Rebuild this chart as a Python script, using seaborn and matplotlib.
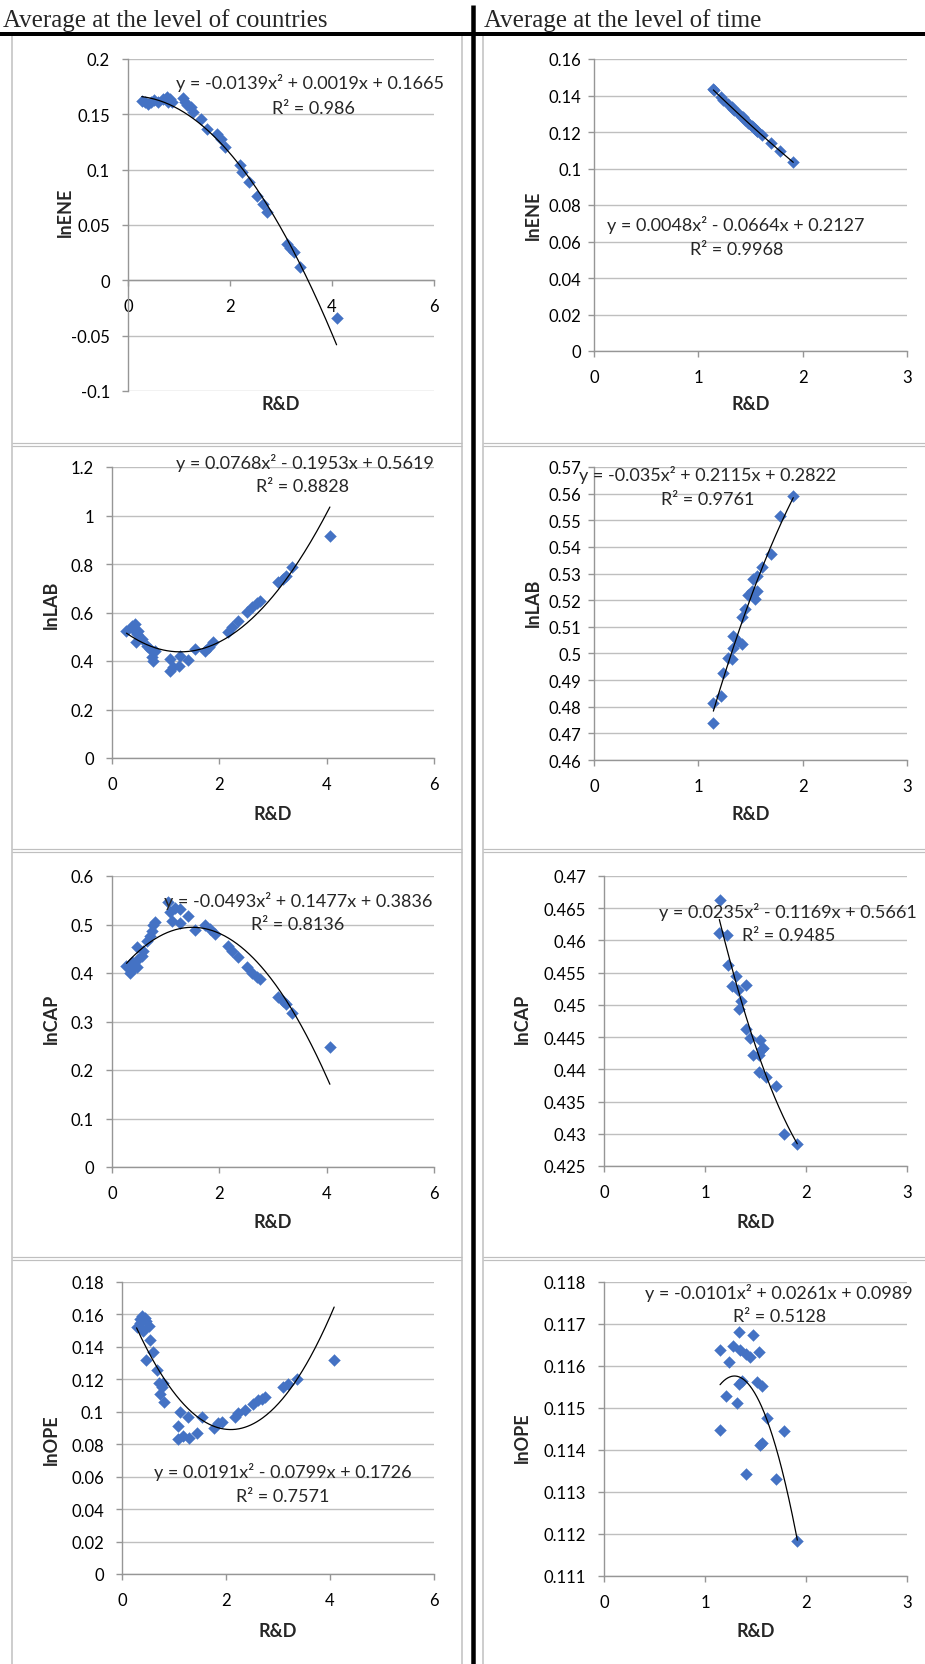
import numpy as np
import matplotlib
matplotlib.use("Agg")
import matplotlib.pyplot as plt
import seaborn as sns
from matplotlib.lines import Line2D
from matplotlib.ticker import FixedLocator, FuncFormatter

W, H = 925, 1665

# ---------------- countries (left column) ----------------
cty_ene_x = [0.27, 0.33, 0.40, 0.46, 0.50, 0.59, 0.69, 0.76, 0.82, 0.79, 0.86,
             1.08, 1.12, 1.16, 1.23, 1.28, 1.44, 1.54, 1.74, 1.82, 1.90,
             2.20, 2.23, 2.37, 2.52, 2.64, 2.73, 3.11, 3.18, 3.25, 3.37, 4.09]
cty_ene_y = [0.1617, 0.1608, 0.1593, 0.1608, 0.1632, 0.1614, 0.1638, 0.1653, 0.1638, 0.1614, 0.1608,
             0.1644, 0.1608, 0.1584, 0.1563, 0.1518, 0.1458, 0.1367, 0.1322, 0.1277, 0.1201,
             0.1042, 0.0981, 0.0885, 0.0758, 0.0689, 0.0614, 0.0327, 0.0288, 0.0252, 0.0116, -0.0336]

cty_lab_x = [0.27, 0.37, 0.43, 0.40, 0.49, 0.46, 0.55, 0.45, 0.65, 0.71, 0.80, 0.74, 0.77,
             1.08, 1.08, 1.14, 1.24, 1.27, 1.42, 1.55, 1.73, 1.80, 1.89,
             2.17, 2.23, 2.35, 2.51, 2.60, 2.70, 2.76, 3.10, 3.18, 3.24, 3.35, 4.06]
cty_lab_y = [0.525, 0.546, 0.553, 0.532, 0.525, 0.511, 0.491, 0.477, 0.463, 0.449, 0.443, 0.415, 0.401,
             0.408, 0.360, 0.374, 0.381, 0.419, 0.404, 0.449, 0.443, 0.456, 0.477,
             0.521, 0.539, 0.566, 0.601, 0.621, 0.639, 0.649, 0.727, 0.738, 0.752, 0.786, 0.914]

cty_cap_x = [0.27, 0.34, 0.40, 0.46, 0.37, 0.49, 0.46, 0.55, 0.58, 0.65, 0.71, 0.74, 0.77, 0.80,
             1.05, 1.08, 1.11, 1.17, 1.27, 1.27, 1.42, 1.55, 1.73, 1.83, 1.92,
             2.17, 2.23, 2.35, 2.51, 2.60, 2.70, 2.76, 3.10, 3.18, 3.25, 3.35, 4.06]
cty_cap_y = [0.415, 0.401, 0.408, 0.412, 0.422, 0.429, 0.453, 0.436, 0.446, 0.467, 0.477, 0.487, 0.498, 0.506,
             0.546, 0.525, 0.508, 0.535, 0.532, 0.504, 0.518, 0.489, 0.498, 0.491, 0.480,
             0.456, 0.446, 0.432, 0.412, 0.401, 0.391, 0.388, 0.350, 0.343, 0.336, 0.318, 0.248]

cty_ope_x = [0.28, 0.35, 0.38, 0.44, 0.47, 0.51, 0.35, 0.41, 0.54, 0.47, 0.60, 0.67, 0.72, 0.79,
             0.73, 0.81, 0.76, 1.12, 1.08, 1.08, 1.17, 1.26, 1.28, 1.44, 1.54, 1.76, 1.85, 1.93,
             2.17, 2.24, 2.37, 2.51, 2.62, 2.70, 2.75, 3.09, 3.20, 3.36, 4.08]
cty_ope_y = [0.152, 0.157, 0.159, 0.158, 0.156, 0.153, 0.155, 0.150, 0.144, 0.132, 0.137, 0.126, 0.118, 0.118,
             0.111, 0.106, 0.115, 0.100, 0.091, 0.083, 0.085, 0.097, 0.084, 0.087, 0.097, 0.090, 0.093, 0.094,
             0.097, 0.099, 0.101, 0.105, 0.107, 0.108, 0.109, 0.115, 0.117, 0.120, 0.132]

# ---------------- time (right column) ----------------
time_ene_x = [1.144, 1.150, 1.214, 1.24, 1.28, 1.32, 1.335, 1.345, 1.38, 1.415, 1.425,
              1.447, 1.48, 1.51, 1.54, 1.565, 1.527, 1.559, 1.607, 1.696, 1.783, 1.91]
time_ene_y = [0.1433, 0.1428, 0.1392, 0.1378, 0.1355, 0.1335, 0.1327, 0.1322, 0.1303, 0.1284, 0.1280,
              0.1267, 0.1250, 0.1234, 0.1219, 0.1206, 0.1225, 0.1208, 0.1184, 0.1141, 0.1094, 0.1034]

time_lab_x = [1.144, 1.144, 1.214, 1.24, 1.28, 1.32, 1.335, 1.335, 1.38, 1.415, 1.415,
              1.447, 1.48, 1.51, 1.54, 1.565, 1.527, 1.559, 1.607, 1.696, 1.783, 1.91]
time_lab_y = [0.474, 0.4815, 0.484, 0.4928, 0.4984, 0.4978, 0.5022, 0.5066, 0.5047, 0.5035, 0.5135,
              0.5166, 0.5219, 0.5235, 0.5204, 0.5235, 0.5279, 0.5291, 0.5323, 0.5373, 0.5517, 0.559]

time_cap_x = [1.149, 1.142, 1.215, 1.231, 1.31, 1.27, 1.41, 1.33, 1.36, 1.34, 1.41,
              1.445, 1.54, 1.48, 1.53, 1.56, 1.577, 1.535, 1.60, 1.70, 1.785, 1.914]
time_cap_y = [0.4663, 0.4612, 0.4609, 0.4562, 0.4545, 0.4530, 0.4531, 0.4523, 0.4506, 0.4493, 0.4463,
              0.4449, 0.4446, 0.4422, 0.4422, 0.4431, 0.4433, 0.4396, 0.4388, 0.4374, 0.4299, 0.4284]

time_ope_x = [1.149, 1.149, 1.238, 1.205, 1.28, 1.32, 1.337, 1.347, 1.337, 1.363, 1.406, 1.445,
              1.479, 1.535, 1.51, 1.56, 1.41, 1.54, 1.568, 1.61, 1.70, 1.785, 1.914]
time_ope_y = [0.11638, 0.11448, 0.11609, 0.11529, 0.11648, 0.11513, 0.11680, 0.11638, 0.11557, 0.11565,
              0.11629, 0.11621, 0.11674, 0.11633, 0.11561, 0.11553, 0.11344, 0.11412, 0.11417, 0.11476,
              0.11331, 0.11446, 0.11183]

# printed quadratic trendlines (a, b, c) and R²
fit_cty_ene, r2_cty_ene = (-0.0139, 0.0019, 0.1665), "0.986"
fit_cty_lab, r2_cty_lab = (0.0768, -0.1953, 0.5619), "0.8828"
fit_cty_cap, r2_cty_cap = (-0.0493, 0.1477, 0.3836), "0.8136"
fit_cty_ope, r2_cty_ope = (0.0191, -0.0799, 0.1726), "0.7571"
fit_time_ene, r2_time_ene = (0.0048, -0.0664, 0.2127), "0.9968"
fit_time_lab, r2_time_lab = (-0.035, 0.2115, 0.2822), "0.9761"
fit_time_cap, r2_time_cap = (0.0235, -0.1169, 0.5661), "0.9485"
fit_time_ope, r2_time_ope = (-0.0101, 0.0261, 0.0989), "0.5128"

headers = ["Average at the level of countries", "Average at the level of time"]

BLUE = "#4472C4"
GRID = "#BFBFBF"
AXIS = "#969696"

sns.set_theme(style="white")
plt.rcParams["font.family"] = ["Lato", "DejaVu Sans"]


def eq_text(fit):
    a, b, c = fit

    def num(v):
        return ("%.4f" % abs(v)).rstrip("0").rstrip(".")

    s = "y = %s%sx²" % ("-" if a < 0 else "", num(a))
    s += " %s %sx" % ("-" if b < 0 else "+", num(b))
    s += " %s %s" % ("-" if c < 0 else "+", num(c))
    return s


def excel_fmt(v, pos):
    s = ("%.6f" % v).rstrip("0").rstrip(".")
    return "0" if s in ("-0", "") else s


# (x, y, fit, r2, ylabel, axes box px (x0, y0, x1, y1), ylim, ystep, xmax, xstep,
#  y tick pad, ylabel pos, eq centre, r2 centre, xlabel y)
panels = [
    (cty_ene_x, cty_ene_y, fit_cty_ene, r2_cty_ene, "lnENE", (128, 60, 434, 392), (-0.1, 0.2), 0.05, 6, 2,
     9, (65, 212), (310, 83), (313, 109), 404),
    (time_ene_x, time_ene_y, fit_time_ene, r2_time_ene, "lnENE", (594, 60, 907, 352), (0, 0.16), 0.02, 3, 1,
     5, (533, 215), (736, 225), (737, 250), 404),
    (cty_lab_x, cty_lab_y, fit_cty_lab, r2_cty_lab, "lnLAB", (112, 468, 434, 759), (0, 1.2), 0.2, 6, 2,
     9, (51, 605), (305, 463), (303, 487), 815),
    (time_lab_x, time_lab_y, fit_time_lab, r2_time_lab, "lnLAB", (594, 468, 907, 761), (0.46, 0.57), 0.01, 3, 1,
     5, (533, 603), (708, 475), (708, 500), 815),
    (cty_cap_x, cty_cap_y, fit_cty_cap, r2_cty_cap, "lnCAP", (112, 877, 434, 1168), (0, 0.6), 0.1, 6, 2,
     9, (51, 1019), (298, 901), (298, 925), 1223),
    (time_cap_x, time_cap_y, fit_time_cap, r2_time_cap, "lnCAP", (604, 877, 907, 1167), (0.425, 0.47), 0.005, 3, 1,
     9, (522, 1019), (788, 912), (789, 936), 1223),
    (cty_ope_x, cty_ope_y, fit_cty_ope, r2_cty_ope, "lnOPE", (122, 1283, 434, 1575), (0, 0.18), 0.02, 6, 2,
     9, (51, 1440), (283, 1472), (283, 1497), 1632),
    (time_ope_x, time_ope_y, fit_time_ope, r2_time_ope, "lnOPE", (604, 1283, 907, 1577), (0.111, 0.118), 0.001, 3, 1,
     9, (522, 1438), (779, 1293), (780, 1317), 1632),
]

fig = plt.figure(figsize=(W / 100, H / 100), dpi=100)
fig.patch.set_facecolor("white")


def fx(px):
    return px / W


def fy(py):
    return 1 - py / H


for (xs, ys, fit, r2, ylab, box, ylim, ystep, xmax, xstep, ypad,
     ylab_pos, eq_pos, r2_pos, xlab_y) in panels:
    x0, y0, x1, y1 = box
    ax = fig.add_axes([fx(x0), fy(y1), (x1 - x0) / W, (y1 - y0) / H])
    ax.set_facecolor("none")

    sns.scatterplot(x=xs, y=ys, ax=ax, marker="D", s=36, color=BLUE,
                    edgecolor=BLUE, linewidth=0.3, zorder=3, clip_on=False)

    a, b, c = fit
    tx = np.linspace(min(xs), max(xs), 200)
    sns.lineplot(x=tx, y=a * tx ** 2 + b * tx + c, ax=ax, color="black",
                 linewidth=0.9, zorder=4, sort=False)

    ax.set_xlim(0, xmax)
    ax.set_ylim(*ylim)
    yt = np.round(np.arange(ylim[0], ylim[1] + ystep / 2, ystep), 6)
    ax.yaxis.set_major_locator(FixedLocator(yt))
    ax.xaxis.set_major_locator(FixedLocator(np.arange(0, xmax + 1, xstep)))
    ax.yaxis.set_major_formatter(FuncFormatter(excel_fmt))
    ax.xaxis.set_major_formatter(FuncFormatter(excel_fmt))

    ax.yaxis.grid(True, color=GRID, linewidth=1.0)
    ax.xaxis.grid(False)
    ax.set_axisbelow(True)
    for side in ("top", "right"):
        ax.spines[side].set_visible(False)
    for side in ("left", "bottom"):
        ax.spines[side].set_color(AXIS)
        ax.spines[side].set_linewidth(1.0)
    if ylim[0] < 0:
        ax.spines["bottom"].set_position(("data", 0))

    ax.tick_params(axis="both", direction="out", length=4, width=1, color=AXIS,
                   labelsize=12, labelcolor="black", left=True, bottom=True)
    ax.tick_params(axis="y", pad=ypad)
    ax.tick_params(axis="x", pad=9)
    ax.set_xlabel("")
    ax.set_ylabel("")

    fig.text(fx(ylab_pos[0]), fy(ylab_pos[1]), ylab, rotation=90, ha="center",
             va="center", fontsize=13, fontweight="bold")
    fig.text(fx((x0 + x1) / 2), fy(xlab_y), "R&D", ha="center", va="center",
             fontsize=13, fontweight="bold")
    fig.text(fx(eq_pos[0]), fy(eq_pos[1]), eq_text(fit), ha="center", va="center",
             fontsize=13)
    fig.text(fx(r2_pos[0]), fy(r2_pos[1]), "R² = " + r2, ha="center", va="center",
             fontsize=13)

# table borders
border_lines = [
    ([0, W], [35, 35], "black", 4),
    ([473, 473], [6, H], "black", 4.5),
    ([12, 12], [37, H], GRID, 1.5),
    ([462, 462], [37, H], GRID, 1.5),
    ([483, 483], [37, H], GRID, 1.5),
]
for ry in (444, 850, 1258):
    border_lines.append(([12, 462], [ry, ry], GRID, 1.2))
    border_lines.append(([12, 462], [ry + 2.5, ry + 2.5], GRID, 1.2))
    border_lines.append(([483, W], [ry, ry], GRID, 1.2))
    border_lines.append(([483, W], [ry + 2.5, ry + 2.5], GRID, 1.2))
for xs_, ys_, col, lw in border_lines:
    fig.add_artist(Line2D([fx(v) for v in xs_], [fy(v) for v in ys_],
                          color=col, linewidth=lw * 0.72, solid_capstyle="butt"))

fig.text(fx(3), fy(27), headers[0], family=["Liberation Serif", "DejaVu Serif"],
         fontsize=18, ha="left", va="baseline")
fig.text(fx(484), fy(27), headers[1], family=["Liberation Serif", "DejaVu Serif"],
         fontsize=18, ha="left", va="baseline")

fig.savefig("out.png", dpi=100, facecolor="white")
